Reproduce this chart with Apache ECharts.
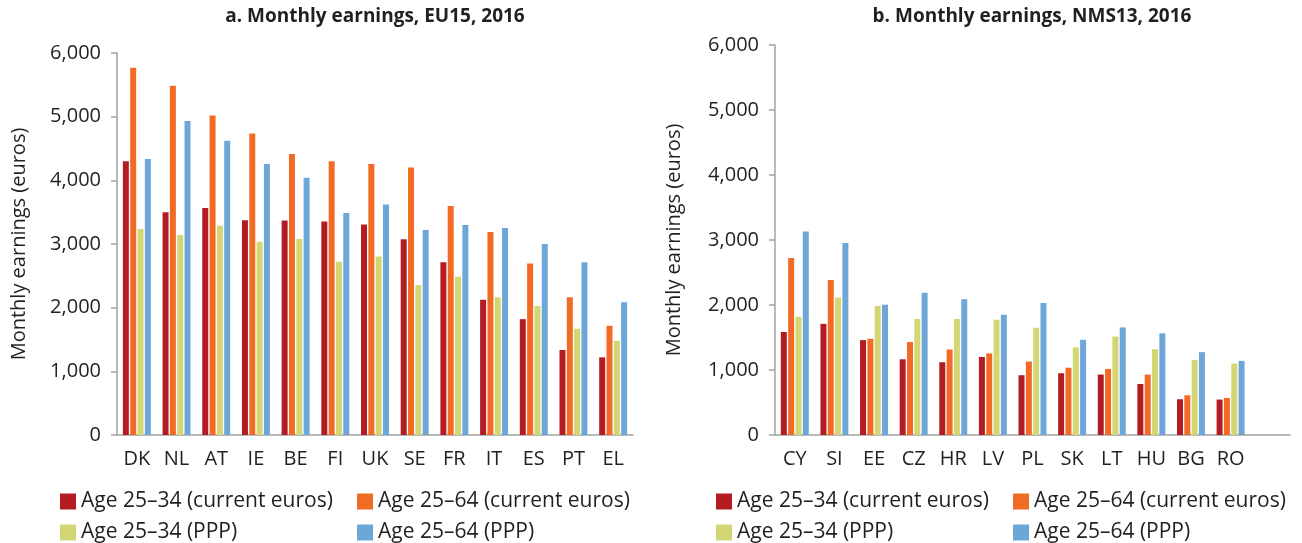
<!DOCTYPE html>
<html>
<head>
<meta charset="utf-8">
<script src="https://cdn.jsdelivr.net/npm/echarts@6/dist/echarts.min.js"></script>
<style>
  html, body { margin: 0; padding: 0; background: #fff; }
  #chart { width: 1302px; height: 543px; }
</style>
</head>
<body>
<div id="chart"></div>
<script>
// data
var eu15 = ['DK', 'NL', 'AT', 'IE', 'BE', 'FI', 'UK', 'SE', 'FR', 'IT', 'ES', 'PT', 'EL'];
var euYoungCur = [4300, 3500, 3565, 3375, 3370, 3355, 3305, 3075, 2715, 2125, 1820, 1335, 1220];
var euAllCur = [5770, 5485, 5020, 4735, 4415, 4300, 4255, 4200, 3595, 3190, 2695, 2165, 1715];
var euYoungPpp = [3235, 3140, 3285, 3035, 3080, 2720, 2805, 2355, 2485, 2165, 2025, 1670, 1480];
var euAllPpp = [4335, 4930, 4620, 4255, 4040, 3485, 3620, 3220, 3300, 3250, 3000, 2715, 2085];

var nms13 = ['CY', 'SI', 'EE', 'CZ', 'HR', 'LV', 'PL', 'SK', 'LT', 'HU', 'BG', 'RO', ''];
var nmsYoungCur = [1585, 1710, 1460, 1165, 1120, 1200, 920, 950, 930, 785, 550, 545];
var nmsAllCur = [2725, 2385, 1480, 1430, 1315, 1255, 1130, 1035, 1015, 930, 610, 570];
var nmsYoungPpp = [1820, 2115, 1985, 1785, 1785, 1775, 1650, 1350, 1515, 1320, 1155, 1100];
var nmsAllPpp = [3130, 2955, 2005, 2190, 2090, 1850, 2030, 1465, 1655, 1565, 1275, 1140];

var names = ['Age 25\u201334 (current euros)', 'Age 25\u201364 (current euros)', 'Age 25\u201334 (PPP)', 'Age 25\u201364 (PPP)'];
var colors = ['#b41c24', '#f26a25', '#d4d674', '#6fa6d8'];

var font = 'Open Sans';
var txt = '#231f20';
var axisGray = '#a3a3a3';

function xAx(idx, cats) {
  return {
    type: 'category', gridIndex: idx, data: cats,
    axisLine: { lineStyle: { color: axisGray, width: 1.5 } },
    axisTick: { length: 6, lineStyle: { color: axisGray, width: 1.5 } },
    axisLabel: { color: txt, fontFamily: font, fontSize: 20, margin: 14, interval: 0 }
  };
}

function yAx(idx, gap) {
  return {
    type: 'value', gridIndex: idx, min: 0, max: 6000, interval: 1000,
    name: 'Monthly earnings (euros)', nameLocation: 'middle', nameGap: gap,
    nameTextStyle: { color: txt, fontFamily: font, fontSize: 20 },
    axisLine: { show: true, lineStyle: { color: axisGray, width: 1.5 } },
    axisTick: { show: true, length: 6, lineStyle: { color: axisGray, width: 1.5 } },
    splitLine: { show: false },
    axisLabel: {
      color: txt, fontFamily: font, fontSize: 20, margin: 16,
      formatter: function (v) { return v.toLocaleString('en-US'); }
    }
  };
}

function bars(idx, arrs) {
  return arrs.map(function (d, i) {
    return {
      name: names[i], type: 'bar', xAxisIndex: idx, yAxisIndex: idx,
      data: d, barWidth: 6, barGap: '22%',
      itemStyle: { color: colors[i] },
      emphasis: { disabled: true }
    };
  });
}

function legendCol(left, items) {
  return {
    orient: 'vertical', left: left, top: 491, padding: 0,
    itemWidth: 16, itemHeight: 16, itemGap: 10, icon: 'rect',
    data: items,
    textStyle: { color: txt, fontFamily: font, fontSize: 21, lineHeight: 20 }
  };
}

var chart = echarts.init(document.getElementById('chart'), null, { renderer: 'canvas' });

chart.setOption({
  animation: false,
  title: [
    { text: 'a. Monthly earnings, EU15, 2016', left: 375, top: 7, textAlign: 'center', padding: 0,
      textStyle: { color: txt, fontFamily: font, fontSize: 19, fontWeight: 'bold' } },
    { text: 'b. Monthly earnings, NMS13, 2016', left: 1032, top: 7, textAlign: 'center', padding: 0,
      textStyle: { color: txt, fontFamily: font, fontSize: 19, fontWeight: 'bold' } }
  ],
  grid: [
    { left: 117, top: 53, width: 516, height: 382 },
    { left: 775, top: 45, width: 515, height: 390 }
  ],
  xAxis: [xAx(0, eu15), xAx(1, nms13)],
  yAxis: [yAx(0, 88), yAx(1, 91)],
  legend: [
    legendCol(60, [names[0], names[2]]),
    legendCol(357, [names[1], names[3]]),
    legendCol(716, [names[0], names[2]]),
    legendCol(1013, [names[1], names[3]])
  ],
  series: bars(0, [euYoungCur, euAllCur, euYoungPpp, euAllPpp])
    .concat(bars(1, [nmsYoungCur, nmsAllCur, nmsYoungPpp, nmsAllPpp]))
});
</script>
</body>
</html>
